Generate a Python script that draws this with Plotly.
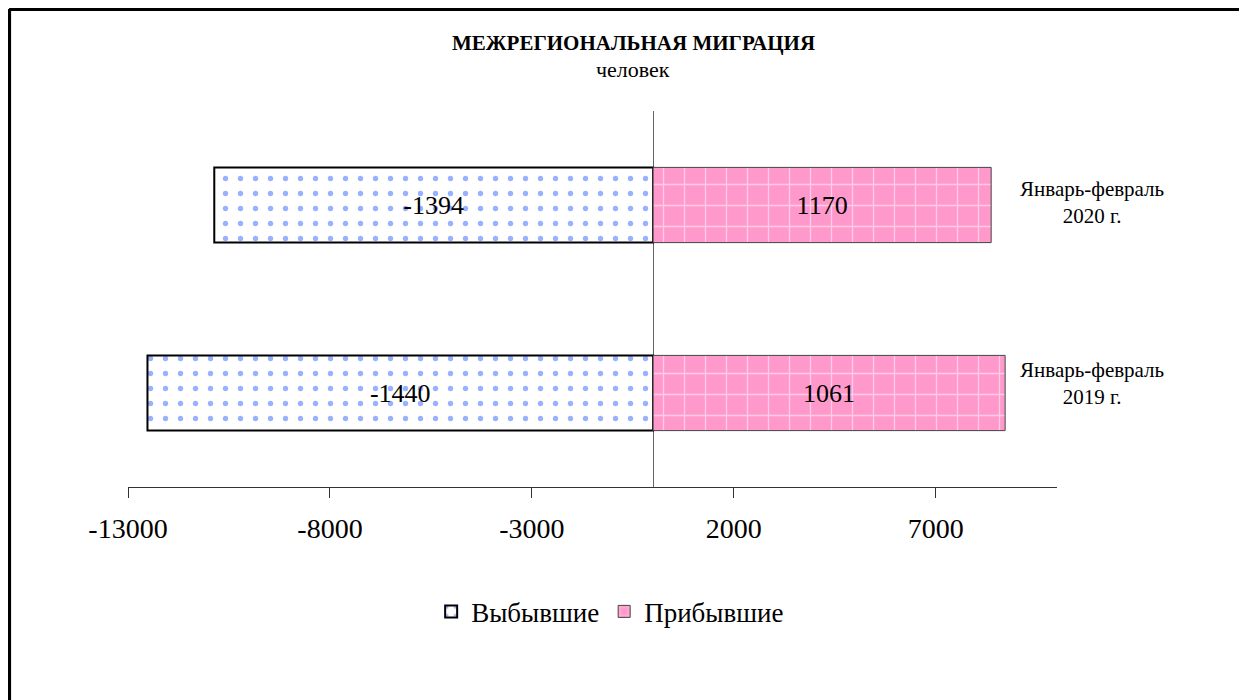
import plotly.graph_objects as go

# periods (bottom to top)
periods = ["Январь-февраль<br>2019 г.", "Январь-февраль<br>2020 г."]

# bar lengths as drawn on the axis
departed = [-12518, -10864]
arrived = [8716, 8370]

# data labels printed on the bars
departed_labels = ["-1440", "-1394"]
arrived_labels = ["1061", "1170"]

# x axis ticks
tick_vals = [-13000, -8000, -3000, 2000, 7000]
tick_text = ["-13000", "-8000", "-3000", "2000", "7000"]

serif = "Liberation Serif, Times New Roman, serif"

fig = go.Figure()
fig.add_trace(go.Bar(
    y=periods, x=departed, orientation="h", name="Выбывшие",
    text=departed_labels, textposition="inside", insidetextanchor="middle",
    textfont=dict(family=serif, size=26, color="black"),
    marker=dict(color="white", line=dict(color="black", width=2),
                pattern=dict(shape=".", fgcolor="#3366FF", bgcolor="white",
                             size=15, solidity=0.1)),
))
fig.add_trace(go.Bar(
    y=periods, x=arrived, orientation="h", name="Прибывшие",
    text=arrived_labels, textposition="inside", insidetextanchor="middle",
    textfont=dict(family=serif, size=26, color="black"),
    marker=dict(color="#FF99CC", line=dict(color="#444444", width=1),
                pattern=dict(shape="+", fgcolor="white", bgcolor="#FF99CC",
                             size=21, solidity=0.12)),
))

# period labels to the right of the bars (Excel puts them a bit high)
label_shift = [10, 3]
for p, s in zip(periods, label_shift):
    fig.add_annotation(x=1.038, xref="paper", y=p, yref="y", text=p,
                       showarrow=False, xanchor="center", yanchor="middle",
                       yshift=s,
                       font=dict(family=serif, size=21, color="black"))

fig.add_annotation(x=0.544, xref="paper", y=1.0, yref="paper", yshift=68,
                   yanchor="middle",
                   text="<b>МЕЖРЕГИОНАЛЬНАЯ МИГРАЦИЯ</b>", showarrow=False,
                   font=dict(family=serif, size=21, color="black"))
fig.add_annotation(x=0.544, xref="paper", y=1.0, yref="paper", yshift=42,
                   yanchor="middle",
                   text="человек", showarrow=False,
                   font=dict(family=serif, size=22, color="black"))

# outer frame (left and top edges visible)
fig.add_shape(type="line", xref="paper", yref="paper", x0=-0.128, x1=1.3,
              y0=1.271, y1=1.271, line=dict(color="black", width=4))
fig.add_shape(type="line", xref="paper", yref="paper", x0=-0.128, x1=-0.128,
              y0=1.271, y1=-0.7, line=dict(color="black", width=4))

fig.update_layout(
    width=1247, height=700,
    margin=dict(l=120, r=198, t=103, b=221),
    barmode="relative", bargap=0.6,
    paper_bgcolor="white", plot_bgcolor="white",
    font=dict(family=serif, color="black"),
    showlegend=True,
    legend=dict(orientation="h", x=0.519, xanchor="center", y=-0.332,
                yanchor="middle", font=dict(family=serif, size=27),
                traceorder="normal", itemwidth=30),
    xaxis=dict(range=[-13000, 10000], tickvals=tick_vals, ticktext=tick_text,
               showgrid=False, zeroline=True, zerolinecolor="#666666",
               zerolinewidth=1, showline=True, linecolor="#333333",
               linewidth=1, ticks="outside", ticklen=10, tickcolor="#333333",
               ticklabelstandoff=6,
               tickfont=dict(family=serif, size=28)),
    yaxis=dict(showticklabels=False, showgrid=False, zeroline=False,
               range=[-0.5, 1.5]),
)

fig.write_html("out.html")
